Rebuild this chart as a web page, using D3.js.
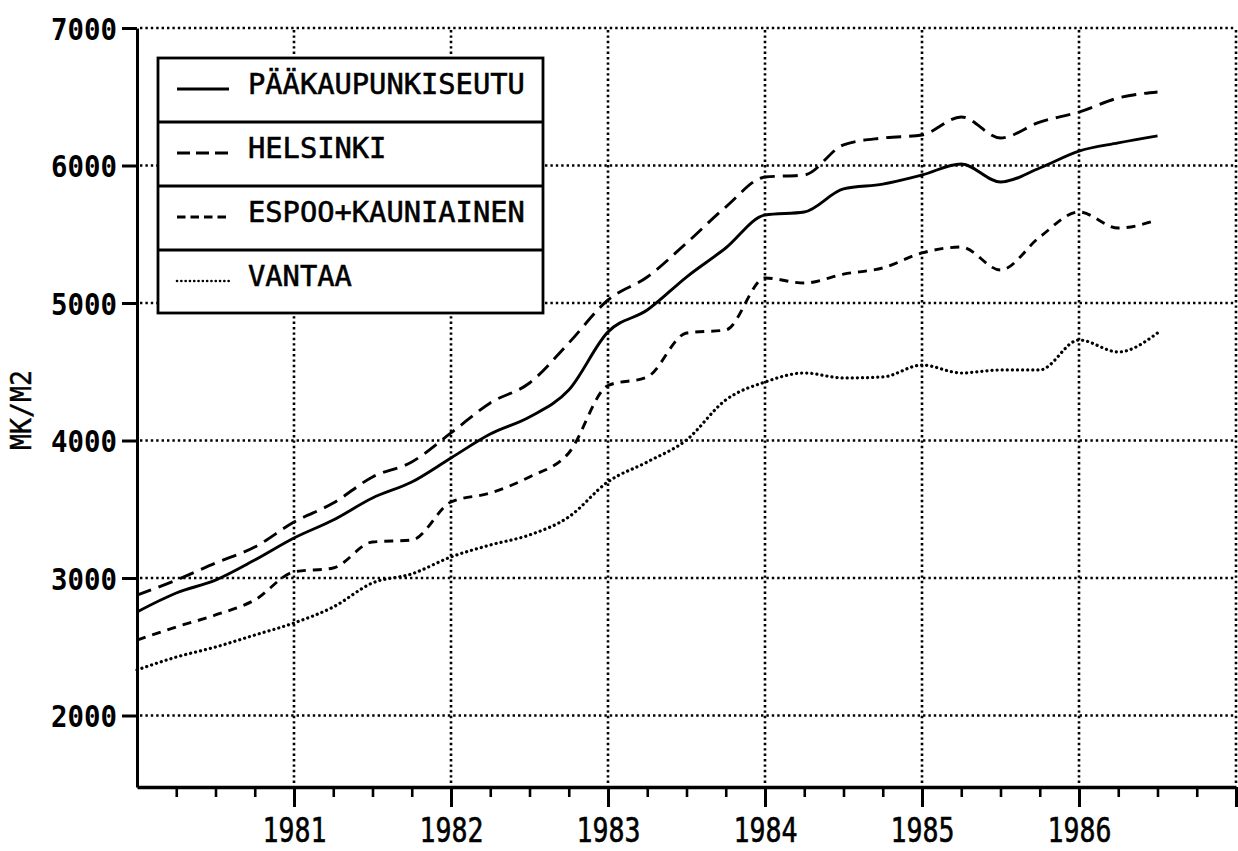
<html>
<head>
<meta charset="utf-8">
<style>
  body { margin: 0; background: white; }
  .axis path, .axis line { stroke: black; }
  .lbl { font-family: "DejaVu Sans Mono", monospace; fill: black; }
</style>
</head>
<body>
<svg class="chart"></svg>
<script src="https://cdn.jsdelivr.net/npm/d3@7"></script>
<script>
  // quarterly time points, 1980.0 .. 1986.5
  var quarters = [1980, 1980.25, 1980.5, 1980.75, 1981, 1981.25, 1981.5, 1981.75,
    1982, 1982.25, 1982.5, 1982.75, 1983, 1983.25, 1983.5, 1983.75,
    1984, 1984.25, 1984.5, 1984.75, 1985, 1985.25, 1985.5, 1985.75,
    1986, 1986.25, 1986.5];

  var paakaupunkiseutu = [2753, 2891, 2985, 3131, 3291, 3422, 3582, 3698,
    3873, 4047, 4171, 4367, 4790, 4949, 5189, 5400,
    5640, 5662, 5830, 5865, 5931, 6011, 5880, 5982,
    6105, 6164, 6215];
  var helsinki = [2876, 2985, 3109, 3225, 3407, 3545, 3735, 3844,
    4055, 4273, 4418, 4709, 5022, 5189, 5436, 5698,
    5916, 5931, 6150, 6200, 6222, 6353, 6200, 6316,
    6389, 6491, 6535];
  var espoo = [2549, 2644, 2731, 2840, 3044, 3073, 3262, 3276,
    3553, 3618, 3735, 3909, 4400, 4462, 4782, 4804,
    5182, 5145, 5210, 5255, 5364, 5407, 5240, 5480,
    5662, 5545, 5604];
  var vantaa = [2331, 2425, 2498, 2585, 2673, 2789, 2964, 3030,
    3153, 3240, 3313, 3444, 3700, 3844, 4004, 4295,
    4425, 4491, 4455, 4462, 4549, 4491, 4513, 4513,
    4731, 4644, 4782];

  var seriesNames = ["PÄÄKAUPUNKISEUTU", "HELSINKI", "ESPOO+KAUNIAINEN", "VANTAA"];
  var yTicks = [2000, 3000, 4000, 5000, 6000, 7000];
  var yearTicks = [1981, 1982, 1983, 1984, 1985, 1986];

  var width = 1238, height = 851;
  var plotLeft = 137, plotRight = 1236, plotTop = 28, plotBottom = 787;

  var dashes = ["none", "15,8", "9,7", "0.1,5"];

  var x = d3.scaleLinear().domain([1980, 1987]).range([plotLeft, plotRight]);
  var y = d3.scaleLinear().domain([1480, 7000]).range([plotBottom, plotTop]);

  var chart = d3.select(".chart")
    .attr("width", width)
    .attr("height", height);

  // dotted grid
  var grid = chart.append("g").attr("stroke", "black").attr("stroke-width", 2.6)
    .attr("stroke-dasharray", "2.4,3").attr("fill", "none");
  grid.selectAll(".hg").data(yTicks).enter().append("line")
    .attr("x1", plotLeft + 3).attr("x2", plotRight)
    .attr("y1", function(d) { return y(d); })
    .attr("y2", function(d) { return y(d); });
  grid.selectAll(".vg").data(yearTicks.concat([1987])).enter().append("line")
    .attr("x1", function(d) { return x(d); }).attr("x2", function(d) { return x(d); })
    .attr("y1", plotTop + 2).attr("y2", plotBottom - 2);

  // lines
  var allSeries = [paakaupunkiseutu, helsinki, espoo, vantaa];
  var line = d3.line()
    .x(function(d, i) { return x(quarters[i]); })
    .y(function(d) { return y(d); })
    .curve(d3.curveMonotoneX);

  chart.selectAll(".series").data(allSeries).enter().append("path")
    .attr("d", line)
    .attr("fill", "none")
    .attr("stroke", "black")
    .attr("stroke-width", function(d, i) { return i == 3 ? 3.2 : 2.9; })
    .attr("stroke-linecap", function(d, i) { return i == 3 ? "round" : "butt"; })
    .attr("stroke-dasharray", function(d, i) { return dashes[i]; });

  // axes
  var yAxis = d3.axisLeft(y).tickValues(yTicks).tickSize(15).tickSizeOuter(0)
    .tickFormat(d3.format("d"));
  var gy = chart.append("g").attr("class", "axis")
    .attr("transform", "translate(" + plotLeft + ",0)")
    .call(yAxis);
  gy.select(".domain").attr("stroke-width", 3);
  gy.selectAll(".tick line").attr("stroke-width", 3);
  gy.selectAll(".tick text")
    .attr("class", "lbl")
    .attr("x", -20).attr("dy", "0.36em")
    .style("font-size", "31px").style("font-weight", "bold")
    .attr("textLength", 66).attr("lengthAdjust", "spacingAndGlyphs");

  var xMinor = d3.axisBottom(x)
    .tickValues(d3.range(1980.25, 1987, 0.25).filter(function(d) { return d % 1 != 0; }))
    .tickSize(10).tickSizeOuter(0).tickFormat("");
  var gxm = chart.append("g").attr("class", "axis")
    .attr("transform", "translate(0," + plotBottom + ")")
    .call(xMinor);
  gxm.select(".domain").remove();
  gxm.selectAll(".tick line").attr("stroke-width", 2.6);

  var xAxis = d3.axisBottom(x).tickValues(yearTicks.concat([1987])).tickSize(20).tickSizeOuter(0)
    .tickFormat(function(d) { return d < 1987 ? d : ""; });
  var gx = chart.append("g").attr("class", "axis")
    .attr("transform", "translate(0," + plotBottom + ")")
    .call(xAxis);
  gx.select(".domain").attr("stroke-width", 3.5);
  gx.selectAll(".tick line").attr("stroke-width", 3);
  gx.selectAll(".tick text")
    .filter(function(d) { return d < 1987; })
    .attr("class", "lbl")
    .attr("y", 55).attr("dy", 0)
    .style("font-size", "34px")
    .attr("stroke", "black").attr("stroke-width", 0.6)
    .attr("textLength", 64).attr("lengthAdjust", "spacingAndGlyphs");

  // y axis title
  chart.append("text").attr("class", "lbl")
    .attr("transform", "translate(31,410) rotate(-90)")
    .attr("text-anchor", "middle")
    .style("font-size", "28px")
    .attr("stroke", "black").attr("stroke-width", 0.4)
    .attr("textLength", 80).attr("lengthAdjust", "spacingAndGlyphs")
    .text("MK/M2");

  // legend
  var lg = chart.append("g");
  var rowH = 64;
  lg.append("rect").attr("x", 158).attr("y", 58).attr("width", 385).attr("height", 4 * rowH - 1)
    .attr("fill", "white").attr("stroke", "black").attr("stroke-width", 2.8);
  var rows = lg.selectAll(".row").data(seriesNames).enter().append("g")
    .attr("transform", function(d, i) { return "translate(158," + (58 + i * rowH) + ")"; });
  rows.filter(function(d, i) { return i > 0; }).append("line")
    .attr("x1", 0).attr("x2", 385).attr("y1", 0).attr("y2", 0)
    .attr("stroke", "black").attr("stroke-width", 2.8);
  rows.append("line")
    .attr("x1", 19).attr("x2", 71).attr("y1", 31).attr("y2", 31)
    .attr("stroke", "black").attr("stroke-width", function(d, i) { return i == 3 ? 2.6 : 2.8; })
    .attr("stroke-linecap", function(d, i) { return i == 3 ? "round" : "butt"; })
    .attr("stroke-dasharray", function(d, i) { return ["none", "13,6", "8.5,5", "0.1,4.2"][i]; });
  rows.append("text").attr("class", "lbl")
    .attr("x", 90).attr("y", 36)
    .style("font-size", "29px")
    .attr("stroke", "black").attr("stroke-width", 0.6)
    .attr("textLength", function(d) { return d.length * 17.3; })
    .attr("lengthAdjust", "spacingAndGlyphs")
    .text(function(d) { return d; });
</script>
</body>
</html>
